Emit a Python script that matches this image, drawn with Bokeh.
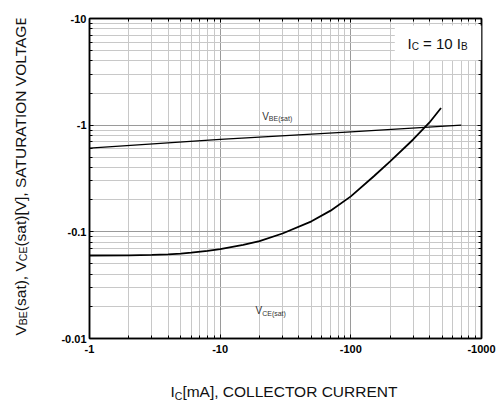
import math
from bokeh.plotting import figure
from bokeh.layouts import column, row
from bokeh.models import (FixedTicker, CustomJSTickFormatter, LogAxis, Label,
                          BoxAnnotation, Range1d)
from bokeh.embed import file_html
from bokeh.resources import INLINE

# ---- data ----
ic_vbe = [1, 10, 100, 700]
vbe_sat = [0.61, 0.735, 0.866, 1.0]

ic_vce = [1, 2, 3, 4, 5, 6, 8, 10, 15, 20, 30, 50, 70, 100, 150, 200, 300, 400, 490]
vce_sat = [0.060, 0.0602, 0.0607, 0.0614, 0.0625, 0.0638, 0.0663, 0.069, 0.0755,
           0.082, 0.0965, 0.1255, 0.158, 0.215, 0.332, 0.458, 0.734, 1.06, 1.45]

x_ticks = [1, 10, 100, 1000]
y_ticks = [0.01, 0.1, 1, 10]
x_minor = [m * 10 ** k for k in range(0, 3) for m in range(2, 10)]
y_minor = [round(m * 10.0 ** k, 6) for k in range(-2, 1) for m in range(2, 10)]

FONT = "Liberation Sans"
INK = "#111111"

# Arial / Liberation Sans advance widths (per 1000 em)
W = {' ': 278, '(': 333, ')': 333, ',': 278, '-': 333, '.': 278, '=': 584,
     '[': 278, ']': 278, 'A': 667, 'B': 667, 'C': 722, 'E': 667, 'G': 778,
     'I': 278, 'L': 556, 'N': 722, 'O': 778, 'R': 722, 'S': 667, 'T': 611,
     'U': 722, 'V': 667, 'a': 556, 'm': 833, 's': 500, 't': 278}
for d in "0123456789":
    W[d] = 556


def tw(s, size):
    return sum(W.get(c, 556) for c in s) / 1000.0 * size


def pieces_layout(pieces):
    """list of (offset_along_baseline, stripped_text, size, shift)"""
    pos = 0.0
    out = []
    for text, size, shift in pieces:
        lead = len(text) - len(text.lstrip(' '))
        core = text.strip(' ')
        out.append((pos + tw(' ' * lead, size), core, size, shift))
        pos += tw(text, size)
    return out


def add_labels(fig, pieces, x0, y0, color, vertical=False):
    for off, text, size, sh in pieces_layout(pieces):
        if vertical:
            x, y, ang = x0 + sh, y0 + off, math.pi / 2
        else:
            x, y, ang = x0 + off, y0 + sh + 0.3 * size, 0.0
        fig.add_layout(Label(x=x, y=y, x_units="screen", y_units="screen",
                             text=text, text_font=FONT, angle=ang,
                             text_font_size=f"{size}px", text_color=color,
                             text_align="left", text_baseline="alphabetic"))


# ---------------- main chart ----------------
p = figure(x_axis_type="log", y_axis_type="log",
           x_range=Range1d(1, 1000), y_range=Range1d(0.01, 10),
           frame_width=392, frame_height=320,
           min_border_left=49, min_border_right=15,
           min_border_top=18, min_border_bottom=28,
           toolbar_location=None, output_backend="svg",
           background_fill_color="white", border_fill_color="white")

p.outline_line_color = "black"
p.outline_line_width = 1.5

xt = FixedTicker(ticks=x_ticks, minor_ticks=x_minor)
yt = FixedTicker(ticks=y_ticks, minor_ticks=y_minor)
p.xaxis.ticker = xt
p.yaxis.ticker = yt
p.xgrid.ticker = xt
p.ygrid.ticker = yt

for g in (p.xgrid, p.ygrid):
    g.grid_line_color = "#9a9a9a"
    g.grid_line_width = 1
    g.minor_grid_line_color = "#c8c8c8"
    g.minor_grid_line_width = 1

fmt = CustomJSTickFormatter(code="return '-' + tick;")
for ax in (p.xaxis[0], p.yaxis[0]):
    ax.formatter = fmt
    ax.axis_line_color = "black"
    ax.axis_line_width = 1.5
    ax.major_tick_in = 4
    ax.major_tick_out = 0
    ax.minor_tick_in = 3
    ax.minor_tick_out = 0
    ax.major_tick_line_color = "black"
    ax.minor_tick_line_color = "black"
    ax.major_label_text_font = FONT
    ax.major_label_text_font_style = "bold"
    ax.major_label_text_font_size = "11px"
    ax.major_label_text_color = "black"
p.xaxis.major_label_standoff = 6
p.yaxis.major_label_standoff = 3

empty = CustomJSTickFormatter(code="return '';")
for loc, tk in (("right", yt), ("above", xt)):
    a = LogAxis(ticker=tk, formatter=empty, major_label_text_font_size="0px",
                major_label_standoff=0, axis_line_color="black",
                axis_line_width=1.5, major_tick_in=4, major_tick_out=0,
                minor_tick_in=3, minor_tick_out=0,
                major_tick_line_color="black", minor_tick_line_color="black")
    p.add_layout(a, loc)

# curves
p.line(ic_vbe, vbe_sat, line_color="black", line_width=1.3)
p.line(ic_vce, vce_sat, line_color="black", line_width=1.8)

# condition box
p.add_layout(BoxAnnotation(left=217, right=1000, bottom=4.05, top=8.6,
                           fill_color="white", fill_alpha=1.0,
                           line_color=None))

# box text  I_C = 10 I_B
add_labels(p, [("I", 15, 0), ("C", 10, -2), (" = 10 I", 15, 0), ("B", 10, -2)],
           318, 290.7, INK)
# curve labels
add_labels(p, [("V", 10, 0), ("BE(sat)", 7, -1.5)], 172.7, 219, "#333333")
add_labels(p, [("V", 10, 0), ("CE(sat)", 7, -1.5)], 166, 24.7, "#333333")


def blank_fig(w, h):
    f = figure(width=w, height=h, x_range=Range1d(0, w), y_range=Range1d(0, h),
               min_border=0, toolbar_location=None, output_backend="svg",
               x_axis_location=None, y_axis_location=None,
               background_fill_color="white", border_fill_color="white")
    f.outline_line_color = None
    for g in f.grid:
        g.visible = False
    return f


# ---------------- y axis title (rotated) ----------------
YW, YH = 40, 366
fy = blank_fig(YW, YH)
add_labels(fy, [("V", 15.5, 0), ("BE", 10.5, 2.5), ("(sat), V", 15.5, 0),
                ("CE", 10.5, 2.5), ("(sat)[V], SATURATION VOLTAGE", 15.5, 0)],
           20, 3, INK, vertical=True)

# ---------------- x axis title ----------------
XW, XH = 496, 38
fx = blank_fig(XW, XH)
add_labels(fx, [("I", 15.5, 0), ("C", 10.5, -2.5),
                ("[mA], COLLECTOR CURRENT", 15.5, 0)],
           170, 8.3, INK)

layout = column(row(fy, p), fx)
open("out.html", "w").write(file_html(layout, INLINE))
